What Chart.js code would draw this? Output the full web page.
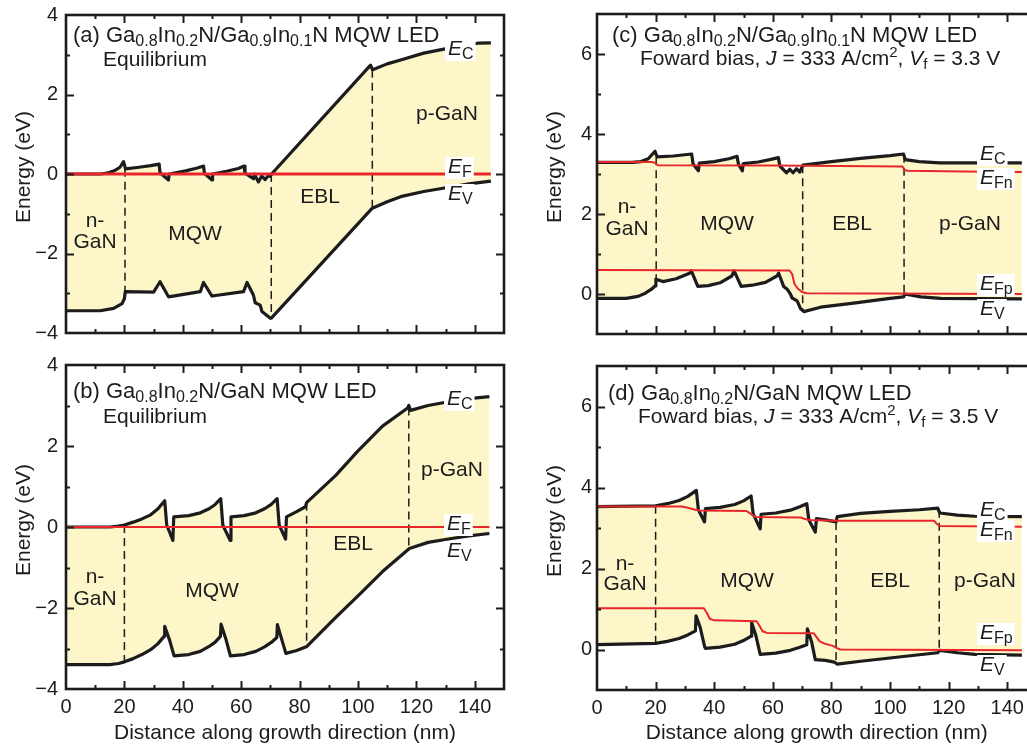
<!DOCTYPE html>
<html>
<head>
<meta charset="utf-8">
<script src="https://cdn.jsdelivr.net/npm/chart.js@4.4.0/dist/chart.umd.min.js"></script>
<style>
  html, body { margin: 0; padding: 0; background: #fff; width: 1027px; height: 746px; overflow: hidden; }
  canvas { position: absolute; }
</style>
</head>
<body>
<canvas id="chartA" width="520" height="340" style="left:0;top:0"></canvas>
<canvas id="chartB" width="520" height="406" style="left:0;top:340px"></canvas>
<canvas id="chartC" width="540" height="340" style="left:520px;top:0"></canvas>
<canvas id="chartD" width="540" height="406" style="left:520px;top:340px"></canvas>
<script>
const xTicks = [0, 20, 40, 60, 80, 100, 120, 140];
const yTicksLeft = [-4, -2, 0, 2, 4];
const yTicksRight = [0, 2, 4, 6];

// (a) Ga0.8In0.2N/Ga0.9In0.1N, equilibrium
const ecA = [[0,0],[11.7,0],[14,0.02],[16.5,0.08],[18.5,0.17],[19.7,0.31],[20.4,0.13],[25,0.17],[29,0.21],[31.9,0.25],[32.2,0.03],[35.1,-0.15],[35.3,0],[41,0.08],[45,0.15],[47.1,0.2],[47.4,0.02],[50,-0.15],[50.2,0],[55,0.07],[59,0.14],[61,0.2],[61.3,0.02],[64.2,-0.12],[64.5,0],[65.9,-0.2],[67,-0.05],[68.2,-0.14],[69.4,-0.03],[70,-0.06],[70.4,0],[104.3,2.74],[105,2.62],[110,2.77],[114.6,2.87],[122.5,3.04],[130.7,3.16],[141,3.29],[145.5,3.3]];
const evA = [[0,-3.44],[11.7,-3.44],[16.3,-3.38],[19.2,-3.26],[20,-3.14],[20.3,-2.96],[30,-2.97],[32.2,-2.71],[35.1,-3.09],[46,-2.96],[47.1,-2.73],[50,-3.07],[60.8,-2.96],[62,-2.73],[64.2,-3.05],[64.8,-3.24],[66.5,-3.3],[67.1,-3.46],[70,-3.63],[70.4,-3.62],[104.9,-0.86],[110,-0.7],[114.6,-0.57],[122.5,-0.44],[130.7,-0.34],[138,-0.25],[145.5,-0.18]];
const efA = [[0,0],[145.5,0]];
const dashA = [[20.2,0.13,-2.96],[70.3,0,-3.63],[104.9,2.62,-0.86]];

// (b) Ga0.8In0.2N/GaN, equilibrium
const ecB = [[0,0],[15,0],[18,0.02],[20,0.05],[23,0.12],[26,0.2],[29,0.3],[31.5,0.45],[33.8,0.65],[34.5,0.05],[36.6,-0.33],[36.9,0.25],[42,0.28],[46,0.35],[49,0.45],[51,0.55],[53,0.7],[53.7,0.05],[56.2,-0.33],[56.5,0.25],[61,0.28],[65,0.35],[68,0.45],[70.3,0.56],[72.3,0.7],[73,0.05],[75.2,-0.3],[75.5,0.25],[79,0.38],[82,0.5],[82.4,0.6],[92.3,1.27],[100,1.88],[108.4,2.49],[117,2.94],[117.4,3.0],[118,2.88],[124,3.0],[131.5,3.1],[138,3.17],[145,3.22]];
const evB = [[0,-3.4],[15,-3.4],[18,-3.37],[20,-3.33],[23,-3.25],[26,-3.15],[29,-3.03],[31.5,-2.88],[33.6,-2.7],[33.8,-2.45],[35.5,-2.8],[37,-3.18],[42,-3.15],[46,-3.07],[49,-2.95],[51,-2.85],[52.9,-2.7],[53.1,-2.4],[54.8,-2.78],[56.3,-3.18],[61,-3.15],[65,-3.07],[68,-2.96],[70.3,-2.85],[72.2,-2.73],[72.4,-2.41],[73.9,-2.78],[75.3,-3.12],[79,-3.05],[82.5,-2.95],[92.3,-2.24],[100,-1.7],[108.4,-1.1],[117.6,-0.53],[124,-0.38],[131.5,-0.29],[138,-0.22],[145,-0.16]];
const efB = [[0,0],[145,0]];
const dashB = [[20,0.05,-3.33],[82.4,0.6,-2.95],[117.4,2.95,-0.55]];

// (c) Ga0.8In0.2N/Ga0.9In0.1N, forward bias
const ecC = [[0,3.29],[12,3.29],[15,3.31],[17.5,3.38],[19.8,3.57],[20.5,3.43],[26,3.45],[32.3,3.5],[32.8,3.25],[34.6,3.08],[34.9,3.27],[40,3.31],[45,3.38],[47.8,3.44],[48.3,3.24],[49.6,3.08],[49.9,3.26],[55,3.3],[59,3.36],[61.9,3.41],[62.4,3.2],[64.7,3.03],[65.8,3.12],[66.9,3.03],[68.1,3.13],[69.2,3.05],[70.3,3.22],[80,3.31],[90,3.39],[100,3.46],[104.6,3.5],[105.2,3.36],[110,3.31],[117,3.28],[145,3.28]];
const evC = [[0,-0.11],[10,-0.11],[14,-0.06],[16.5,0.02],[18.6,0.12],[19.8,0.2],[20.1,0.37],[22.5,0.31],[27,0.38],[31.6,0.52],[32.2,0.58],[34.4,0.19],[38,0.21],[42,0.28],[46,0.45],[46.8,0.58],[49.2,0.19],[53,0.22],[57.5,0.29],[61.4,0.45],[62,0.52],[63.7,0.19],[64.9,0.12],[66,0],[66.6,-0.1],[68.3,-0.17],[69.5,-0.37],[70.6,-0.44],[76.3,-0.33],[87.6,-0.23],[100,-0.11],[104.7,-0.07],[105,0],[110.5,-0.07],[117.3,-0.11],[145,-0.12]];
const efnC = [[0,3.3],[18.5,3.3],[19.8,3.28],[20.8,3.22],[60,3.21],[104.2,3.19],[105,3.1],[106,3.08],[125,3.06],[145,3.05]];
const efpC = [[0,0.6],[65.7,0.59],[66.6,0.5],[67.4,0.25],[68.5,0.14],[70,0.05],[71.5,0.02],[145,0]];
const dashC = [[20.2,3.42,0.37],[70.2,3.22,-0.43],[104.8,3.48,-0.06]];

// (d) Ga0.8In0.2N/GaN, forward bias
const ecD = [[0,3.53],[20,3.55],[24,3.6],[28,3.68],[31,3.78],[33.9,3.93],[34.6,3.45],[36.7,3.15],[37,3.48],[42,3.51],[47,3.58],[50,3.67],[52.6,3.79],[53.3,3.35],[55.7,2.98],[56,3.34],[61,3.37],[66,3.44],[69,3.52],[71.6,3.6],[72.3,3.2],[74.5,2.9],[74.9,3.23],[78,3.2],[81.6,3.15],[82,3.28],[90,3.36],[100,3.41],[110,3.45],[116.3,3.49],[117,3.37],[123,3.32],[129,3.29],[145,3.28]];
const evD = [[0,0.12],[20,0.15],[24,0.2],[28,0.27],[31,0.36],[33.6,0.46],[33.8,0.83],[35.2,0.55],[36.7,0.08],[37,0.03],[42,0.06],[47,0.13],[50,0.22],[52.6,0.33],[52.8,0.66],[54.2,0.35],[55.7,-0.12],[61,-0.09],[66,-0.02],[69,0.05],[71.6,0.12],[71.8,0.51],[73.2,0.2],[74.5,-0.25],[78,-0.27],[81,-0.31],[82,-0.36],[90,-0.29],[100,-0.21],[110,-0.13],[116.3,-0.08],[117,-0.02],[123,-0.08],[129,-0.12],[145,-0.14]];
const efnD = [[0,3.53],[29,3.53],[31,3.5],[33.5,3.45],[35,3.43],[51,3.42],[52.5,3.35],[54,3.27],[69.5,3.26],[71,3.22],[72.5,3.2],[82,3.18],[115,3.18],[116,3.1],[117,3.05],[145,3.03]];
const efpD = [[0,1.02],[36.5,1.02],[37.5,0.9],[38.5,0.76],[40,0.72],[54.5,0.7],[55.5,0.58],[56.5,0.45],[58,0.41],[74,0.4],[75,0.3],[76,0.2],[77.5,0.15],[80.5,0.09],[82,0.03],[83,0],[145,-0.02]];
const dashD = [[20,3.55,0.15],[81.6,3.15,-0.31],[116.8,3.45,-0.05]];

const INK = "#1c1c1c";
const RED = "#e8262c";
const FILL = "#fdf6c9";
const FAM = '"Liberation Sans", Arial, Helvetica, sans-serif';

function pts(a) {
  return a.map(p => ({ x: p[0], y: p[1] }));
}

function dashPts(list) {
  const out = [];
  list.forEach((d, i) => {
    if (i) out.push({ x: (list[i - 1][0] + d[0]) / 2, y: null });
    out.push({ x: d[0], y: d[1] }, { x: d[0], y: d[2] });
  });
  return out;
}

// rich text: parts are [text, style]; style "" normal, "i" italic, "b" subscript, "p" superscript
function richFont(style, size, sub) {
  if (style === "i") return "italic " + size + "px " + FAM;
  if (style === "b" || style === "p") return sub + "px " + FAM;
  return size + "px " + FAM;
}

function richWidth(ctx, parts, size, sub) {
  let w = 0;
  parts.forEach(p => {
    ctx.font = richFont(p[1] || "", size, sub);
    w += ctx.measureText(p[0]).width;
  });
  return w;
}

function drawRich(ctx, x, y, parts, size, sub, align, subDy) {
  const w = richWidth(ctx, parts, size, sub);
  let cx = align === "center" ? x - w / 2 : x;
  ctx.textAlign = "left";
  ctx.textBaseline = "alphabetic";
  ctx.fillStyle = INK;
  parts.forEach(p => {
    const st = p[1] || "";
    ctx.font = richFont(st, size, sub);
    let dy = 0;
    if (st === "b") dy = subDy !== undefined ? subDy : size * 0.2;
    if (st === "p") dy = -size * 0.4;
    ctx.fillText(p[0], cx, y + dy);
    cx += ctx.measureText(p[0]).width;
  });
  return w;
}

function makeDecor(o) {
  return {
    id: "decor",
    afterDatasetsDraw(chart) {
      const ctx = chart.ctx;
      ctx.save();
      drawRich(ctx, o.title[0][0], o.title[0][1], o.title[0][2], 22, 16, "left");
      drawRich(ctx, o.title[1][0], o.title[1][1], o.title[1][2], 21, 15, "left");
      o.regions.forEach(r => drawRich(ctx, r[0], r[1], [[r[2]]], 21, 15, "center"));
      // white boxes first so that labels never hide each other
      o.bands.forEach(b => {
        const w = richWidth(ctx, [["E", "i"], [b[2], "b"]], 21, 16);
        ctx.fillStyle = "#fff";
        ctx.fillRect(b[0] - 3, b[1] - 16, w + 5, 22);
      });
      o.bands.forEach(b => drawRich(ctx, b[0], b[1], [["E", "i"], [b[2], "b"]], 21, 16, "left", 4));
      ctx.restore();
    },
    afterDraw(chart) {
      const ctx = chart.ctx;
      const a = chart.chartArea;
      const xs = chart.scales.x;
      const ys = chart.scales.y;
      ctx.save();
      ctx.strokeStyle = INK;
      ctx.lineWidth = 2;
      ctx.beginPath();
      for (let v = 10; v < 150; v += 10) {
        const px = Math.round(xs.getPixelForValue(v)) + 0.5;
        const len = v % 20 === 0 ? 8 : 4;
        ctx.moveTo(px, a.bottom); ctx.lineTo(px, a.bottom - len);
        ctx.moveTo(px, a.top); ctx.lineTo(px, a.top + len);
      }
      for (let v = Math.ceil(ys.min) + 1; v < ys.max; v += 1) {
        const py = Math.round(ys.getPixelForValue(v)) + 0.5;
        const len = v % 2 === 0 ? 8 : 4;
        ctx.moveTo(a.left, py); ctx.lineTo(a.left + len, py);
        ctx.moveTo(a.right, py); ctx.lineTo(a.right - len, py);
      }
      ctx.stroke();
      ctx.lineWidth = 2.6;
      ctx.strokeRect(a.left, a.top, a.right - a.left, a.bottom - a.top);
      // y axis title
      ctx.translate(o.yTitleX, (a.top + a.bottom) / 2 - 7);
      ctx.rotate(-Math.PI / 2);
      ctx.font = "21px " + FAM;
      ctx.fillStyle = INK;
      ctx.textAlign = "center";
      ctx.textBaseline = "middle";
      ctx.fillText("Energy (eV)", 0, 0);
      ctx.restore();
    }
  };
}

function makeChart(id, o) {
  const ds = [];
  o.red.forEach(r => ds.push({ data: pts(r), borderColor: RED, borderWidth: o.redW, pointRadius: 0, fill: false }));
  ds.push({ data: pts(o.ec), borderColor: INK, borderWidth: 3.2, pointRadius: 0, fill: "+1", backgroundColor: FILL });
  ds.push({ data: pts(o.ev), borderColor: INK, borderWidth: 3.2, pointRadius: 0, fill: false });
  ds.push({ data: dashPts(o.dash), borderColor: INK, borderWidth: 1.5, borderDash: [8, 5], pointRadius: 0, fill: false, spanGaps: false });

  new Chart(document.getElementById(id), {
    type: "line",
    data: { datasets: ds },
    options: {
      responsive: false,
      animation: false,
      layout: { padding: { left: 0, top: o.top, right: o.padR, bottom: 0 } },
      elements: { line: { tension: 0, borderJoinStyle: "round" } },
      plugins: {
        legend: { display: false },
        tooltip: { enabled: false },
        filler: { drawTime: "beforeDatasetsDraw" }
      },
      scales: {
        x: {
          type: "linear",
          min: 0,
          max: 150,
          grid: { display: false, drawTicks: false },
          border: { display: false },
          afterBuildTicks: s => { s.ticks = xTicks.map(v => ({ value: v })); },
          afterFit: s => { s.height = o.xH; s.paddingLeft = 0; s.paddingRight = 0; },
          ticks: { display: o.xLabels, padding: 6, color: INK, maxRotation: 0, autoSkip: false, font: { size: 20, family: FAM } },
          title: {
            display: o.xLabels,
            text: "Distance along growth direction (nm)",
            color: INK,
            font: { size: 21, family: FAM },
            padding: { top: 0, bottom: 0 }
          }
        },
        y: {
          type: "linear",
          min: o.yMin,
          max: o.yMax,
          grid: { display: false, drawTicks: false },
          border: { display: false },
          afterBuildTicks: s => { s.ticks = o.yTicks.map(v => ({ value: v })); },
          afterFit: s => { s.width = o.left; s.paddingTop = 0; s.paddingBottom = 0; },
          ticks: {
            padding: o.yPad,
            color: INK,
            font: { size: 20, family: FAM },
            callback: v => (v < 0 ? "\u2212" + (-v) : "" + v)
          }
        }
      }
    },
    plugins: [makeDecor(o)]
  });
}

makeChart("chartA", {
  ec: ecA, ev: evA, red: [efA], redW: 3, dash: dashA,
  top: 15, padR: 16, xH: 7, left: 66, yPad: 8, yTitleX: 24,
  yMin: -4, yMax: 4, yTicks: yTicksLeft, xLabels: false,
  title: [[73, 42, [["(a) Ga"], ["0.8", "b"], ["In"], ["0.2", "b"], ["N/Ga"], ["0.9", "b"], ["In"], ["0.1", "b"], ["N MQW LED"]]],
          [103, 66, [["Equilibrium"]]]],
  regions: [[95, 227, "n-"], [95, 248, "GaN"], [195, 240, "MQW"], [320, 203, "EBL"], [447, 120, "p-GaN"]],
  bands: [[448, 55, "C"], [448, 173, "F"], [448, 200, "V"]]
});

makeChart("chartB", {
  ec: ecB, ev: evB, red: [efB], redW: 2, dash: dashB,
  top: 25, padR: 16, xH: 57, left: 66, yPad: 8, yTitleX: 24,
  yMin: -4, yMax: 4, yTicks: yTicksLeft, xLabels: true,
  title: [[73, 58, [["(b) Ga"], ["0.8", "b"], ["In"], ["0.2", "b"], ["N/GaN MQW LED"]]], [103, 83, [["Equilibrium"]]]],
  regions: [[95, 243, "n-"], [95, 265, "GaN"], [212, 257, "MQW"], [353, 210, "EBL"], [452, 136, "p-GaN"]],
  bands: [[447, 65, "C"], [447, 190, "F"], [447, 217, "V"]]
});

makeChart("chartC", {
  ec: ecC, ev: evC, red: [efnC, efpC], redW: 2, dash: dashC,
  top: 14, padR: 23.5, xH: 6, left: 77, yPad: 5, yTitleX: 35,
  yMin: -1, yMax: 7, yTicks: yTicksRight, xLabels: false,
  title: [[92, 42, [["(c) Ga"], ["0.8", "b"], ["In"], ["0.2", "b"], ["N/Ga"], ["0.9", "b"], ["In"], ["0.1", "b"], ["N MQW LED"]]],
          [120, 65, [["Foward bias, "], ["J", "i"], [" = 333 A/cm"], ["2", "p"], [", "], ["V", "i"], ["f", "b"], [" = 3.3 V"]]]],
  regions: [[107, 213, "n-"], [107, 235, "GaN"], [207, 230, "MQW"], [332, 230, "EBL"], [450, 230, "p-GaN"]],
  bands: [[460, 160, "C"], [460, 184, "Fn"], [460, 290, "Fp"], [460, 315, "V"]]
});

makeChart("chartD", {
  ec: ecD, ev: evD, red: [efnD, efpD], redW: 2, dash: dashD,
  top: 26, padR: 23.5, xH: 56, left: 77, yPad: 5, yTitleX: 35,
  yMin: -1, yMax: 7, yTicks: yTicksRight, xLabels: true,
  title: [[88, 60, [["(d) Ga"], ["0.8", "b"], ["In"], ["0.2", "b"], ["N/GaN MQW LED"]]],
          [118, 83, [["Foward bias, "], ["J", "i"], [" = 333 A/cm"], ["2", "p"], [", "], ["V", "i"], ["f", "b"], [" = 3.5 V"]]]],
  regions: [[105, 230, "n-"], [105, 250, "GaN"], [227, 247, "MQW"], [370, 247, "EBL"], [465, 247, "p-GaN"]],
  bands: [[460, 176, "C"], [460, 196, "Fn"], [460, 299, "Fp"], [460, 331, "V"]]
});
</script>
</body>
</html>
